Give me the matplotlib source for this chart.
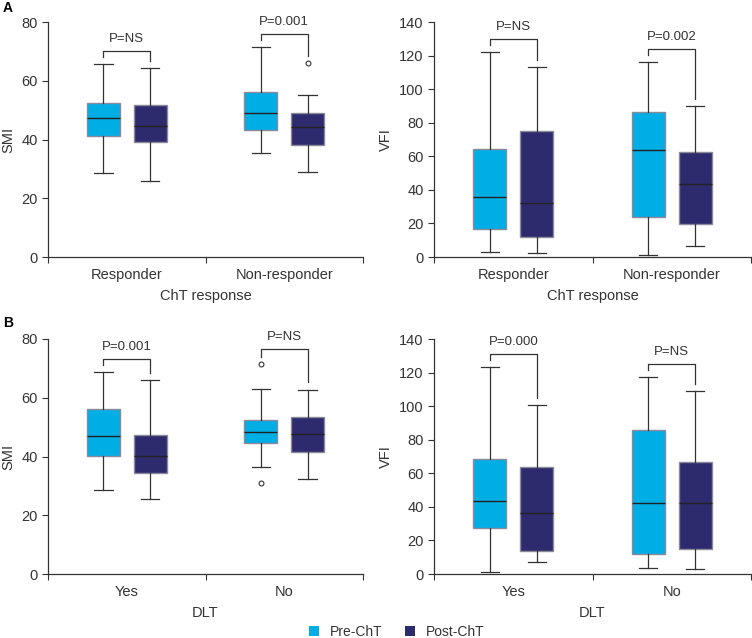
import matplotlib
matplotlib.use('Agg')
import matplotlib.pyplot as plt
from matplotlib.patches import Patch

plt.rcParams['font.family'] = ['Liberation Sans', 'DejaVu Sans']
plt.rcParams['font.size'] = 9

# Colours
PRE = '#00aee6'
POST = '#2e2a6e'
TXT = '#333333'

# Box statistics: [whislo, q1, med, q3, whishi]
# Panel A: ChT response
a_groups = ['Responder', 'Non-responder']
a_smi_pre = [[28.6, 41.1, 47.3, 52.5, 65.8], [35.3, 43.2, 49.0, 56.2, 71.4]]
a_smi_post = [[25.8, 39.3, 44.6, 51.9, 64.2], [28.9, 38.1, 44.4, 49.0, 55.0]]
a_smi_pre_fl = [[], []]
a_smi_post_fl = [[], [66.0]]
a_smi_p = ['P=NS', 'P=0.001']
a_smi_bracket = [70.2, 75.8]

a_vfi_pre = [[3.2, 16.9, 35.7, 64.3, 122.1], [1.0, 23.6, 63.5, 86.4, 116.2]]
a_vfi_post = [[2.4, 11.7, 32.2, 74.9, 113.0], [6.6, 19.9, 43.5, 62.5, 89.8]]
a_vfi_p = ['P=NS', 'P=0.002']
a_vfi_bracket = [129.9, 123.9]

# Panel B: DLT
b_groups = ['Yes', 'No']
b_smi_pre = [[28.5, 40.3, 46.9, 56.1, 68.7], [36.3, 44.6, 48.3, 52.5, 63.1]]
b_smi_post = [[25.6, 34.5, 40.1, 47.4, 66.0], [32.5, 41.4, 47.5, 53.4, 62.8]]
b_smi_pre_fl = [[], [71.5, 31.0]]
b_smi_p = ['P=0.001', 'P=NS']
b_smi_bracket = [73.1, 76.5]

b_vfi_pre = [[1.2, 27.2, 43.3, 68.3, 123.5], [3.8, 11.9, 42.5, 85.6, 117.4]]
b_vfi_post = [[7.3, 13.9, 36.5, 63.5, 100.7], [3.2, 14.7, 42.5, 66.7, 109.0]]
b_vfi_p = ['P=0.000', 'P=NS']
b_vfi_bracket = [131.3, 125.4]


def stats(rows, fliers=None):
    out = []
    for i, r in enumerate(rows):
        out.append(dict(whislo=r[0], q1=r[1], med=r[2], q3=r[3], whishi=r[4],
                        fliers=(fliers[i] if fliers else [])))
    return out


def panel(ax, groups, pre, post, pre_fl, post_fl, pvals, brackets,
          ymax, ystep, ylabel, xlabel):
    centers = [0.5, 1.5]
    off = 0.148
    w = 0.21
    for st, pos, col in [(stats(pre, pre_fl), [c - off for c in centers], PRE),
                         (stats(post, post_fl), [c + off for c in centers], POST)]:
        ax.bxp(st, positions=pos, widths=w, patch_artist=True, showfliers=True,
               boxprops=dict(facecolor=col, edgecolor='#8a8a9a', linewidth=1.0),
               medianprops=dict(color='#222222', linewidth=1.0),
               whiskerprops=dict(color='#333333', linewidth=0.9),
               capprops=dict(color='#333333', linewidth=0.9),
               capwidths=w * 0.55,
               flierprops=dict(marker='o', markersize=3.5, markerfacecolor='white',
                               markeredgecolor='#333333', markeredgewidth=0.8))
    # significance brackets
    for i, c in enumerate(centers):
        y = brackets[i]
        x0, x1 = c - off, c + off
        lo0 = max(pre[i][4], max(pre_fl[i]) if pre_fl[i] else 0) + ymax * 0.03
        lo1 = max(post[i][4], max(post_fl[i]) if post_fl[i] else 0) + ymax * 0.03
        ax.plot([x0, x0, x1, x1], [lo0, y, y, lo1], color='#333333', lw=0.9)
        ax.text(c, y + ymax * 0.025, pvals[i], ha='center', va='bottom',
                color=TXT, fontsize=9.5)
    ax.set_xlim(0, 2)
    ax.set_ylim(0, ymax)
    ax.set_yticks(range(0, ymax + 1, ystep))
    ax.set_xticks([0, 1, 2])
    ax.set_xticklabels([])
    ax.set_xticks(centers, minor=True)
    ax.set_xticklabels(groups, minor=True)
    ax.tick_params(axis='x', which='minor', length=0, pad=8, labelsize=10.5,
                   labelcolor=TXT)
    ax.tick_params(axis='x', which='major', length=4, direction='out',
                   color='#333333')
    ax.tick_params(axis='y', length=4, labelsize=10.5, labelcolor=TXT,
                   color='#333333')
    for s in ['top', 'right']:
        ax.spines[s].set_visible(False)
    for s in ['left', 'bottom']:
        ax.spines[s].set_color('#333333')
        ax.spines[s].set_linewidth(0.9)
    ax.set_ylabel(ylabel, color=TXT, fontsize=10.5)
    ax.set_xlabel(xlabel, color=TXT, fontsize=10.5, labelpad=5)


fig = plt.figure(figsize=(7.52, 6.38), dpi=100)
W, H = 752, 638


def add_ax(x0, y0, x1, y1):
    return fig.add_axes([x0 / W, 1 - y1 / H, (x1 - x0) / W, (y1 - y0) / H])


ax1 = add_ax(48, 22, 363, 257)
ax2 = add_ax(434, 22, 751, 257)
ax3 = add_ax(48, 339, 363, 574)
ax4 = add_ax(434, 339, 751, 574)

none2 = [[], []]
panel(ax1, a_groups, a_smi_pre, a_smi_post, a_smi_pre_fl, a_smi_post_fl,
      a_smi_p, a_smi_bracket, 80, 20, 'SMI', 'ChT response')
panel(ax2, a_groups, a_vfi_pre, a_vfi_post, none2, none2,
      a_vfi_p, a_vfi_bracket, 140, 20, 'VFI', 'ChT response')
panel(ax3, b_groups, b_smi_pre, b_smi_post, b_smi_pre_fl, none2,
      b_smi_p, b_smi_bracket, 80, 20, 'SMI', 'DLT')
panel(ax4, b_groups, b_vfi_pre, b_vfi_post, none2, none2,
      b_vfi_p, b_vfi_bracket, 140, 20, 'VFI', 'DLT')

fig.text(3 / W, 1 - 8 / H, 'A', fontsize=10, fontweight='bold', va='center')
fig.text(3 / W, 1 - 323 / H, 'B', fontsize=10, fontweight='bold', va='center')

handles = [Patch(facecolor=PRE, edgecolor='none', label='Pre-ChT'),
           Patch(facecolor=POST, edgecolor='none', label='Post-ChT')]
fig.legend(handles=handles, loc='center', bbox_to_anchor=(397 / W, 1 - 632 / H),
           ncol=2, frameon=False, fontsize=10, handlelength=0.7, handleheight=0.7,
           columnspacing=1.6, handletextpad=0.8, labelcolor=TXT)

fig.savefig('out.png', dpi=100)
